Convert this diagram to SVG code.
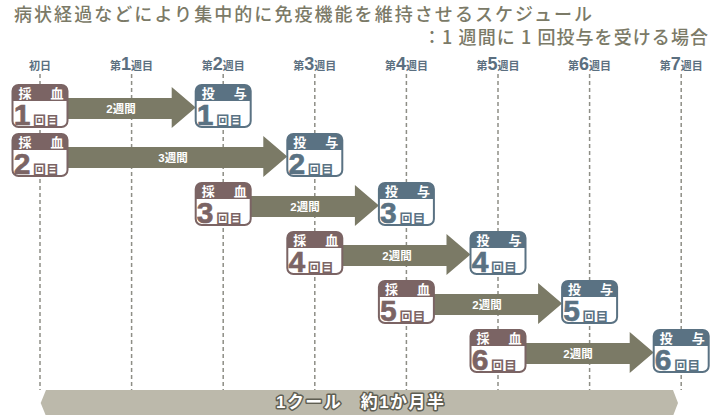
<svg xmlns="http://www.w3.org/2000/svg" width="720" height="415" viewBox="0 0 720 415">
<style>
text{font-family:"Liberation Sans","Noto Sans CJK JP",sans-serif}
.title{font-family:"Noto Sans CJK JP",sans-serif;font-size:18px;fill:#7b7a67;font-weight:500}
.col{font-size:11px;font-weight:bold;fill:#5b6f80;text-anchor:middle}
.col .d{font-size:18px}
.grid line{stroke:#8e8e86;stroke-width:1.5;stroke-dasharray:4 3}
.box{fill:#fff;stroke-width:2}
.sai .box{stroke:#7b6464}.sai .hdr{fill:#7b6464}.sai .num,.sai .kai{fill:#7b6464}
.tou .box{stroke:#5a7283}.tou .hdr{fill:#5a7283}.tou .num,.tou .kai{fill:#5a7283}
.ht{font-size:13px;font-weight:bold;fill:#fff}
.num{font-size:30px;font-weight:bold;text-anchor:middle;stroke-width:0.6}
.sai .num{stroke:#7b6464}.tou .num{stroke:#5a7283}
.kai{font-size:13px;font-weight:bold}
.arrow{fill:#7b7a66}
.lbl{font-size:11.5px;font-weight:bold;fill:#fff;text-anchor:middle}
.bar{fill:#bcb9ab}
.bartext{font-size:17px;font-weight:bold;fill:#fff;stroke:#5f5e52;stroke-width:3;paint-order:stroke;stroke-linejoin:round}
</style>
<defs>
<path id="hdr" d="M0,16V6Q0,0 6,0H49Q55,0 55,6V16Z"/>
</defs>

<g id="title">
<text class="title" x="14" y="21" textLength="578" lengthAdjust="spacing">病状経過などにより集中的に免疫機能を維持させるスケジュール</text>
<text class="title" x="423" y="44" textLength="285" lengthAdjust="spacing">：1 週間に 1 回投与を受ける場合</text>
</g>

<g id="columns">
<text class="col" x="40" y="70">初日</text>
<text class="col" x="131.6" y="70">第<tspan class="d">1</tspan>週目</text>
<text class="col" x="223.2" y="70">第<tspan class="d">2</tspan>週目</text>
<text class="col" x="314.8" y="70">第<tspan class="d">3</tspan>週目</text>
<text class="col" x="406.4" y="70">第<tspan class="d">4</tspan>週目</text>
<text class="col" x="498" y="70">第<tspan class="d">5</tspan>週目</text>
<text class="col" x="589.6" y="70">第<tspan class="d">6</tspan>週目</text>
<text class="col" x="681.2" y="70">第<tspan class="d">7</tspan>週目</text>
</g>

<g class="grid">
<line x1="40" y1="74" x2="40" y2="390"/>
<line x1="131.6" y1="74" x2="131.6" y2="390"/>
<line x1="223.2" y1="74" x2="223.2" y2="390"/>
<line x1="314.8" y1="74" x2="314.8" y2="390"/>
<line x1="406.4" y1="74" x2="406.4" y2="390"/>
<line x1="498" y1="74" x2="498" y2="390"/>
<line x1="589.6" y1="74" x2="589.6" y2="390"/>
<line x1="681.2" y1="74" x2="681.2" y2="390"/>
</g>

<g id="connectors">
<path class="arrow" d="M67.5,98H171.7V87L195.7,107.5L171.7,128V119H67.5Z"/>
<text class="lbl" x="121" y="113">2週間</text>
<path class="arrow" d="M67.5,147H263.3V136L287.3,156.5L263.3,177V168H67.5Z"/>
<text class="lbl" x="173" y="162">3週間</text>
<path class="arrow" d="M250.7,196H354.9V185L378.9,205.5L354.9,226V217H250.7Z"/>
<text class="lbl" x="305" y="211">2週間</text>
<path class="arrow" d="M342.3,245H446.5V234L470.5,254.5L446.5,275V266H342.3Z"/>
<text class="lbl" x="397" y="260">2週間</text>
<path class="arrow" d="M433.9,294H538.1V283L562.1,303.5L538.1,324V315H433.9Z"/>
<text class="lbl" x="487" y="309">2週間</text>
<path class="arrow" d="M525.5,343H629.7V332L653.7,352.5L629.7,373V364H525.5Z"/>
<text class="lbl" x="578" y="358">2週間</text>
</g>

<g id="sai1" class="sai" transform="translate(12.5,85)"><rect class="box" width="55" height="42" rx="6"/><use href="#hdr" class="hdr"/><text class="ht" x="6" y="13" textLength="45">採　血</text><text class="num" x="9.5" y="40">1</text><text class="kai" x="20.5" y="40" textLength="26">回目</text></g>
<g id="tou1" class="tou" transform="translate(195.7,85)"><rect class="box" width="55" height="42" rx="6"/><use href="#hdr" class="hdr"/><text class="ht" x="6" y="13" textLength="45">投　与</text><text class="num" x="9.5" y="40">1</text><text class="kai" x="20.5" y="40" textLength="26">回目</text></g>

<g id="sai2" class="sai" transform="translate(12.5,134)"><rect class="box" width="55" height="42" rx="6"/><use href="#hdr" class="hdr"/><text class="ht" x="6" y="13" textLength="45">採　血</text><text class="num" x="9.5" y="40">2</text><text class="kai" x="20.5" y="40" textLength="26">回目</text></g>
<g id="tou2" class="tou" transform="translate(287.3,134)"><rect class="box" width="55" height="42" rx="6"/><use href="#hdr" class="hdr"/><text class="ht" x="6" y="13" textLength="45">投　与</text><text class="num" x="9.5" y="40">2</text><text class="kai" x="20.5" y="40" textLength="26">回目</text></g>

<g id="sai3" class="sai" transform="translate(195.7,183)"><rect class="box" width="55" height="42" rx="6"/><use href="#hdr" class="hdr"/><text class="ht" x="6" y="13" textLength="45">採　血</text><text class="num" x="9.5" y="40">3</text><text class="kai" x="20.5" y="40" textLength="26">回目</text></g>
<g id="tou3" class="tou" transform="translate(378.9,183)"><rect class="box" width="55" height="42" rx="6"/><use href="#hdr" class="hdr"/><text class="ht" x="6" y="13" textLength="45">投　与</text><text class="num" x="9.5" y="40">3</text><text class="kai" x="20.5" y="40" textLength="26">回目</text></g>

<g id="sai4" class="sai" transform="translate(287.3,232)"><rect class="box" width="55" height="42" rx="6"/><use href="#hdr" class="hdr"/><text class="ht" x="6" y="13" textLength="45">採　血</text><text class="num" x="9.5" y="40">4</text><text class="kai" x="20.5" y="40" textLength="26">回目</text></g>
<g id="tou4" class="tou" transform="translate(470.5,232)"><rect class="box" width="55" height="42" rx="6"/><use href="#hdr" class="hdr"/><text class="ht" x="6" y="13" textLength="45">投　与</text><text class="num" x="9.5" y="40">4</text><text class="kai" x="20.5" y="40" textLength="26">回目</text></g>

<g id="sai5" class="sai" transform="translate(378.9,281)"><rect class="box" width="55" height="42" rx="6"/><use href="#hdr" class="hdr"/><text class="ht" x="6" y="13" textLength="45">採　血</text><text class="num" x="9.5" y="40">5</text><text class="kai" x="20.5" y="40" textLength="26">回目</text></g>
<g id="tou5" class="tou" transform="translate(562.1,281)"><rect class="box" width="55" height="42" rx="6"/><use href="#hdr" class="hdr"/><text class="ht" x="6" y="13" textLength="45">投　与</text><text class="num" x="9.5" y="40">5</text><text class="kai" x="20.5" y="40" textLength="26">回目</text></g>

<g id="sai6" class="sai" transform="translate(470.5,330)"><rect class="box" width="55" height="42" rx="6"/><use href="#hdr" class="hdr"/><text class="ht" x="6" y="13" textLength="45">採　血</text><text class="num" x="9.5" y="40">6</text><text class="kai" x="20.5" y="40" textLength="26">回目</text></g>
<g id="tou6" class="tou" transform="translate(653.7,330)"><rect class="box" width="55" height="42" rx="6"/><use href="#hdr" class="hdr"/><text class="ht" x="6" y="13" textLength="45">投　与</text><text class="num" x="9.5" y="40">6</text><text class="kai" x="20.5" y="40" textLength="26">回目</text></g>

<g id="cycle">
<path class="bar" d="M46,390H673L678,403L673,416H46L40.7,403Z"/>
<text class="bartext" x="276" y="408" textLength="168" lengthAdjust="spacing">1クール　約1か月半</text>
</g>
</svg>
